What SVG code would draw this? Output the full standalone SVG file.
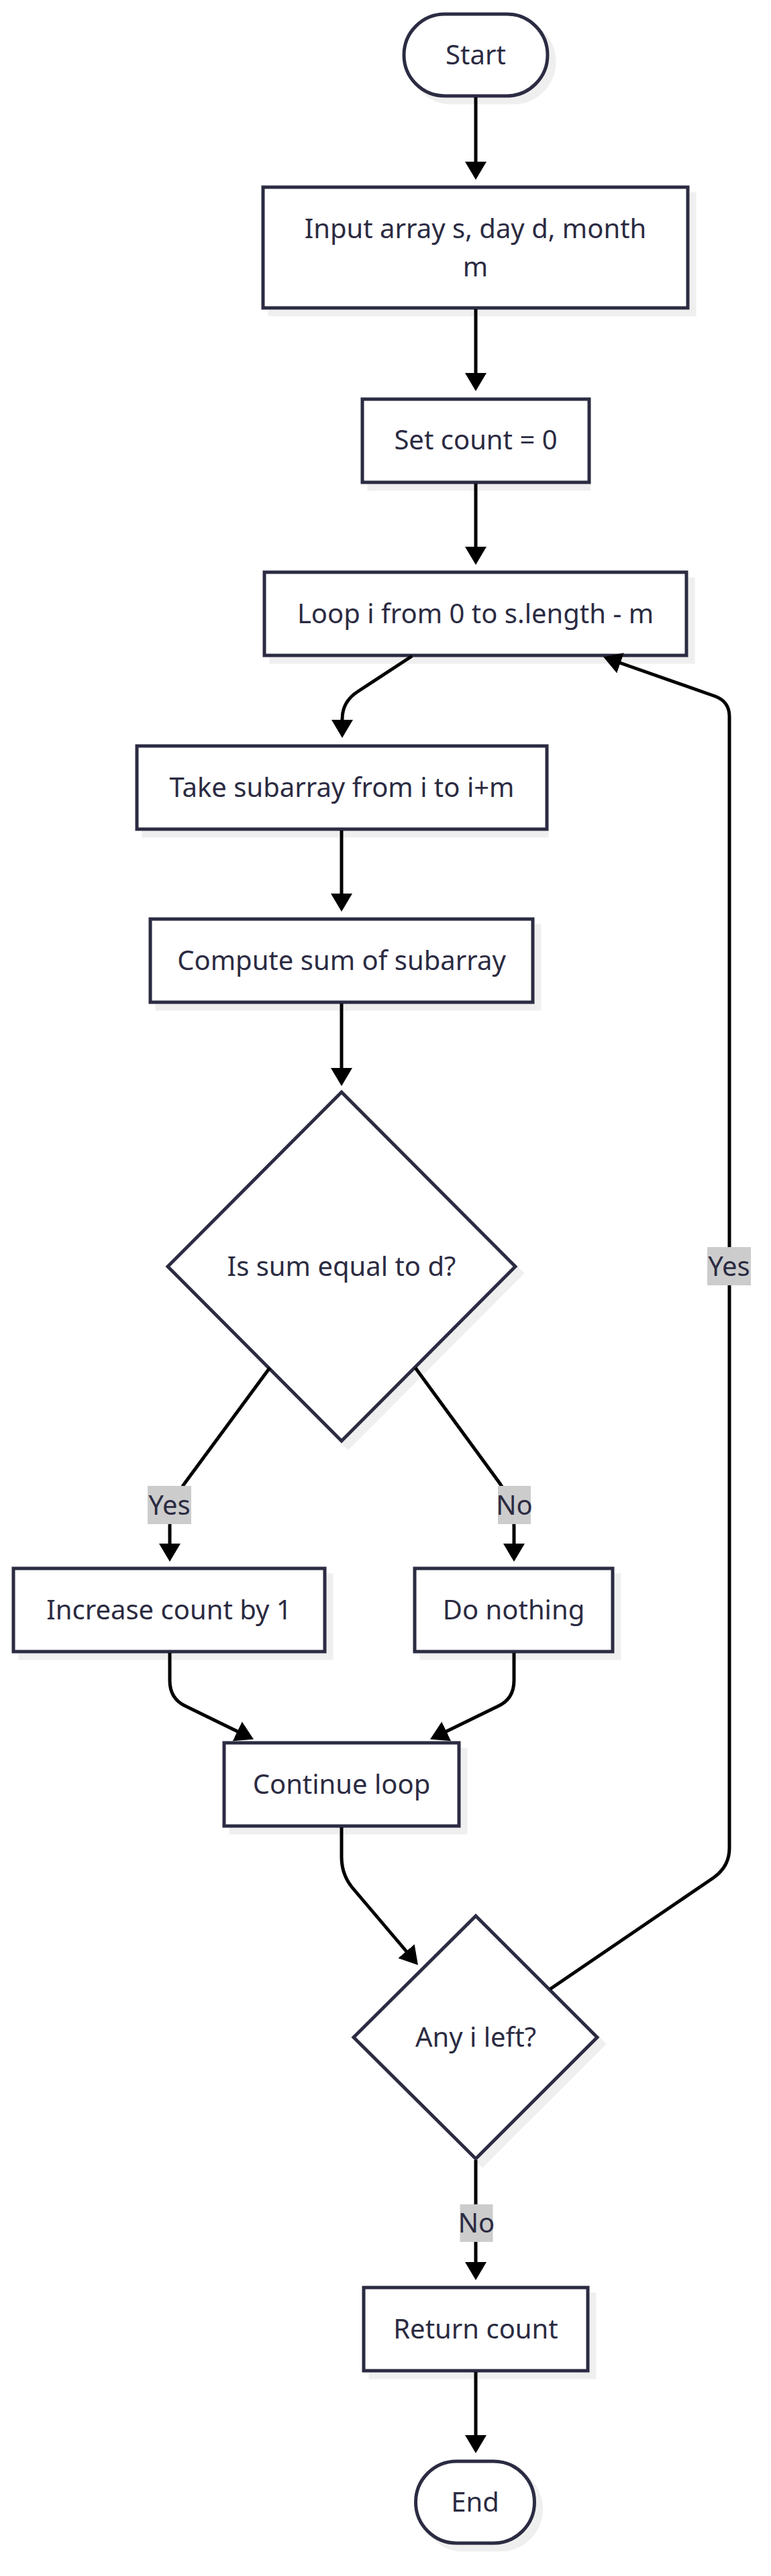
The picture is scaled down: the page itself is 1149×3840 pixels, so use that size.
<svg xmlns="http://www.w3.org/2000/svg" width="1149" height="3840" viewBox="0 0 1149 3840">
<style>
.bg{fill:#ffffff}
.node{fill:#ffffff;stroke:#2b2b42;stroke-width:5}
.shadow{fill:#efefef;stroke:#efefef;stroke-width:5}
.t{font-family:"Noto Sans","Open Sans","DejaVu Sans",sans-serif;font-size:40px;fill:#2b2b42;text-anchor:middle}
.edge{fill:none;stroke:#000000;stroke-width:5;marker-end:url(#ah)}
.lbl{fill:#cccccc}
</style>
<defs>
<marker id="ah" markerUnits="userSpaceOnUse" markerWidth="27" markerHeight="32" viewBox="0 0 27 32" refX="7" refY="16" orient="auto">
<path d="M0,0 L27,16 L0,32 z" fill="#000000"/>
</marker>
</defs>
<rect class="bg" x="0" y="0" width="1149" height="3840"/>

<g id="start">
<rect class="shadow" x="612" y="31" width="214" height="122" rx="61"/>
<rect class="node" x="602" y="21" width="214" height="122" rx="61"/>
<text class="t" x="709" y="96">Start</text>
</g>
<g id="input">
<rect class="shadow" x="402" y="289" width="633" height="180"/>
<rect class="node" x="392" y="279" width="633" height="180"/>
<text class="t" x="708.5" y="355">Input array s, day d, month</text>
<text class="t" x="708.5" y="412">m</text>
</g>
<g id="setcount">
<rect class="shadow" x="550" y="605" width="328" height="124"/>
<rect class="node" x="540" y="595" width="338" height="124"/>
<text class="t" x="709" y="670">Set count = 0</text>
</g>
<g id="loop">
<rect class="shadow" x="404" y="863" width="629" height="124"/>
<rect class="node" x="394" y="853" width="629" height="124"/>
<text class="t" x="708.5" y="929">Loop i from 0 to s.length - m</text>
</g>
<g id="take">
<rect class="shadow" x="214" y="1122" width="601" height="124"/>
<rect class="node" x="204" y="1112" width="611" height="124"/>
<text class="t" x="509.5" y="1188">Take subarray from i to i+m</text>
</g>
<g id="compute">
<rect class="shadow" x="234" y="1380" width="570" height="124"/>
<rect class="node" x="224" y="1370" width="570" height="124"/>
<text class="t" x="509" y="1446">Compute sum of subarray</text>
</g>
<g id="decision1">
<polygon class="shadow" points="519,1638 778,1898 519,2158 260,1898"/>
<polygon class="node" points="509,1628 768,1888 509,2148 250,1888"/>
<text class="t" x="509" y="1902">Is sum equal to d?</text>
</g>
<g id="increase">
<rect class="shadow" x="30" y="2348" width="464" height="124"/>
<rect class="node" x="20" y="2338" width="464" height="124"/>
<text class="t" x="252" y="2414">Increase count by 1</text>
</g>
<g id="donothing">
<rect class="shadow" x="628" y="2348" width="295" height="124"/>
<rect class="node" x="618" y="2338" width="295" height="124"/>
<text class="t" x="765.5" y="2414">Do nothing</text>
</g>
<g id="continue">
<rect class="shadow" x="344" y="2608" width="350" height="124"/>
<rect class="node" x="334" y="2598" width="350" height="124"/>
<text class="t" x="509" y="2674">Continue loop</text>
</g>
<g id="decision2">
<polygon class="shadow" points="719,2866 900,3047 719,3228 537,3047"/>
<polygon class="node" points="709,2856 890,3037 709,3218 527,3037"/>
<text class="t" x="709" y="3051">Any i left?</text>
</g>
<g id="return">
<rect class="shadow" x="552" y="3420" width="334" height="124"/>
<rect class="node" x="542" y="3410" width="334" height="124"/>
<text class="t" x="709" y="3486">Return count</text>
</g>
<g id="end">
<rect class="shadow" x="629.5" y="3679" width="177" height="122" rx="61"/>
<rect class="node" x="619.5" y="3669" width="177" height="122" rx="61"/>
<text class="t" x="708" y="3744">End</text>
</g>

<g id="connectors">
<path class="edge" d="M709,145 L709,248"/>
<path class="edge" d="M709,461 L709,563"/>
<path class="edge" d="M709,721 L709,822"/>
<path class="edge" d="M614,978 L533,1031 Q510,1046 510,1072 L510,1080"/>
<path class="edge" d="M509,1238 L509,1339"/>
<path class="edge" d="M509,1496 L509,1599"/>
<path class="edge" d="M402,2039 L276,2210 Q253,2241 253,2275 L253,2308"/>
<path class="edge" d="M619,2039 L744,2210 Q766,2241 766,2275 L766,2308"/>
<path class="edge" d="M253,2464 L253,2505 Q253,2532 276,2543 L360,2584"/>
<path class="edge" d="M766,2464 L766,2505 Q766,2532 743,2543 L659,2584"/>
<path class="edge" d="M509,2724 L509,2768 Q509,2795 526,2815 L610,2914"/>
<path class="edge" d="M820,2965 L1062,2800 Q1087,2783 1087,2755 L1087,1068 Q1087,1046 1066,1038 L918,986"/>
<path class="edge" d="M709,3220 L709,3379"/>
<path class="edge" d="M709,3536 L709,3637"/>
<g id="edge-labels">
<rect class="lbl" x="1054" y="1859" width="65" height="57"/>
<text class="t" x="1086.5" y="1902">Yes</text>
<rect class="lbl" x="220" y="2215" width="65" height="57"/>
<text class="t" x="252.5" y="2258">Yes</text>
<rect class="lbl" x="742" y="2215" width="49" height="57"/>
<text class="t" x="766.5" y="2258">No</text>
<rect class="lbl" x="685.5" y="3286" width="49" height="56"/>
<text class="t" x="710" y="3328">No</text>
</g>
</g>
</svg>
